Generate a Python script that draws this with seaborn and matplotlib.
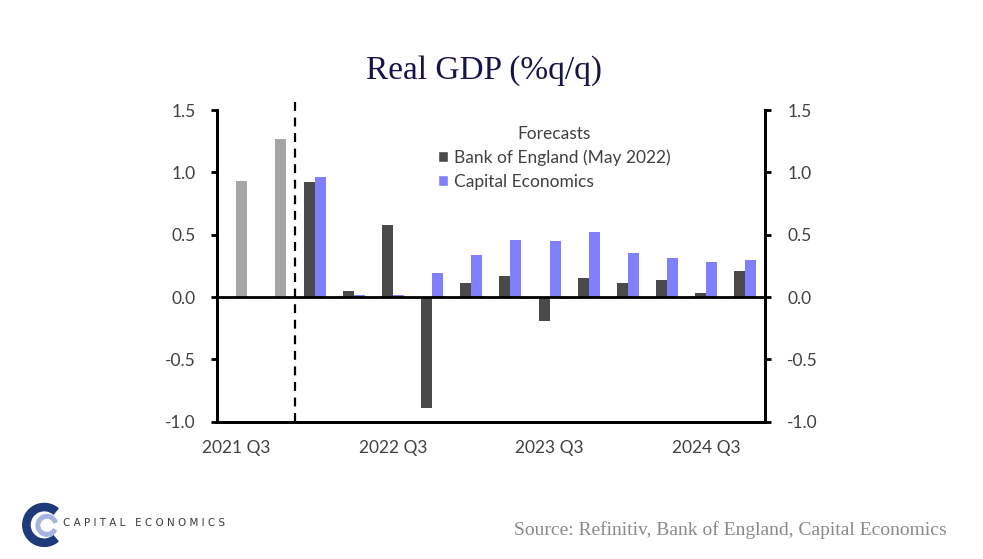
"""Real GDP (%q/q): history plus BoE and Capital Economics forecasts."""

import matplotlib

matplotlib.use("Agg")

import matplotlib.pyplot as plt
import numpy as np
import pandas as pd
import seaborn as sns
from matplotlib.patches import Patch, Wedge

# Daten
quarters = [
    "2021 Q3", "2021 Q4",
    "2022 Q1", "2022 Q2", "2022 Q3", "2022 Q4",
    "2023 Q1", "2023 Q2", "2023 Q3", "2023 Q4",
    "2024 Q1", "2024 Q2", "2024 Q3", "2024 Q4",
]
actual = [0.93, 1.27]
boe_forecast = [0.92, 0.05, 0.58, -0.89, 0.11, 0.17, -0.19, 0.15, 0.11, 0.14, 0.03, 0.21]
ce_forecast = [0.96, 0.02, 0.02, 0.19, 0.34, 0.46, 0.45, 0.52, 0.35, 0.31, 0.28, 0.30]
tick_labels = ["2021 Q3", "2022 Q3", "2023 Q3", "2024 Q3"]

BOE = "Bank of England (May 2022)"
CE = "Capital Economics"
n_hist = len(actual)

# Historie liegt auf der CE-Position (rechte Haelfte des Slots)
df = pd.DataFrame({
    "quarter": quarters * 2,
    "series": [BOE] * len(quarters) + [CE] * len(quarters),
    "value": [np.nan] * n_hist + boe_forecast + actual + ce_forecast,
})

sns.set_style("white")
fig = plt.figure(figsize=(9.83, 5.59), dpi=100)
ax = fig.add_axes([0.2205, 0.2456, 0.5577, 0.5576])

sns.barplot(
    data=df, x="quarter", y="value", hue="series", order=quarters,
    hue_order=[BOE, CE], palette={BOE: "#4a4a4a", CE: "#8080ff"},
    width=0.56, dodge=True, ax=ax, legend=False, saturation=1, linewidth=0,
)
# Historische Balken grau einfaerben
for p in ax.patches:
    if p.get_x() + p.get_width() / 2 < n_hist - 0.5:
        p.set_facecolor("#a6a6a6")

ax.set_xlim(-0.5, len(quarters) - 0.5)
ax.set_ylim(-1.0, 1.5)
ax.axhline(0, color="black", linewidth=2, zorder=5)
ax.axvline(n_hist - 0.5, ymin=0, ymax=1.03, color="black", linestyle=(0, (4, 3)),
           linewidth=1.6, clip_on=False, zorder=5)

sans = ["Lato", "DejaVu Sans"]
serif = ["Liberation Serif", "DejaVu Serif"]
tick_font = dict(family=sans, size=12.5, color="#404040")
ax.set_xticks([quarters.index(t) for t in tick_labels])
ax.set_xticklabels(tick_labels, **tick_font)
ax.set_xticks(np.arange(-0.5, len(quarters), 1), minor=True)
ax.tick_params(axis="x", which="major", length=0, pad=13)
ax.tick_params(axis="x", which="minor", length=5, width=2, direction="out", color="black")
yt = [-1.0, -0.5, 0.0, 0.5, 1.0, 1.5]
ax.set_yticks(yt)
ax.set_yticklabels([f"{v:.1f}" for v in yt], **tick_font)
ax.tick_params(axis="y", length=4, width=2, direction="out", pad=11, color="black")
ax.set_xlabel("")
ax.set_ylabel("")

ax2 = ax.twinx()
ax2.set_ylim(-1.0, 1.5)
ax2.set_yticks(yt)
ax2.set_yticklabels([f"{v:.1f}" for v in yt], **tick_font)
ax2.tick_params(axis="y", length=4, width=2, direction="out", pad=12, color="black")

for a in (ax, ax2):
    a.spines["top"].set_visible(False)
    for s in ("left", "right", "bottom"):
        a.spines[s].set_linewidth(2)
        a.spines[s].set_color("black")

handles = [Patch(facecolor="#4a4a4a", label=BOE), Patch(facecolor="#8080ff", label=CE)]
leg = ax.legend(
    handles=handles, title="Forecasts", loc="upper left", bbox_to_anchor=(0.375, 1.0),
    frameon=False, handlelength=0.6, handleheight=0.6, handletextpad=0.3,
    labelspacing=0.45, prop={"family": sans, "size": 12.5},
)
leg.get_title().set_fontfamily(sans)
leg.get_title().set_fontsize(12.5)
leg.get_title().set_color("#404040")
for t in leg.get_texts():
    t.set_color("#404040")

fig.text(0.492, 0.873, "Real GDP (%q/q)", ha="center", va="center",
         family=serif, size=24, color="#14144a")
fig.text(0.963, 0.052, "Source: Refinitiv, Bank of England, Capital Economics",
         ha="right", va="center", family=serif, size=14, color="#8a8a8a")

# Logo als Formen
lax = fig.add_axes([0.022, 0.02, 0.046, 0.082])
lax.set_xlim(-1, 1)
lax.set_ylim(-1, 1)
lax.set_aspect("equal")
lax.axis("off")
lax.add_patch(Wedge((0, 0), 0.95, 50, 310, width=0.32, color="#1f3a7a"))
lax.add_patch(Wedge((0.12, -0.02), 0.48, 20, 330, width=0.16, color="#a8b4e0"))
fig.text(0.064, 0.064, "C A P I T A L   E C O N O M I C S", ha="left", va="center",
         family=["DejaVu Sans"], size=7.5, color="#3a3a3a")

fig.savefig("out.png", dpi=100)
